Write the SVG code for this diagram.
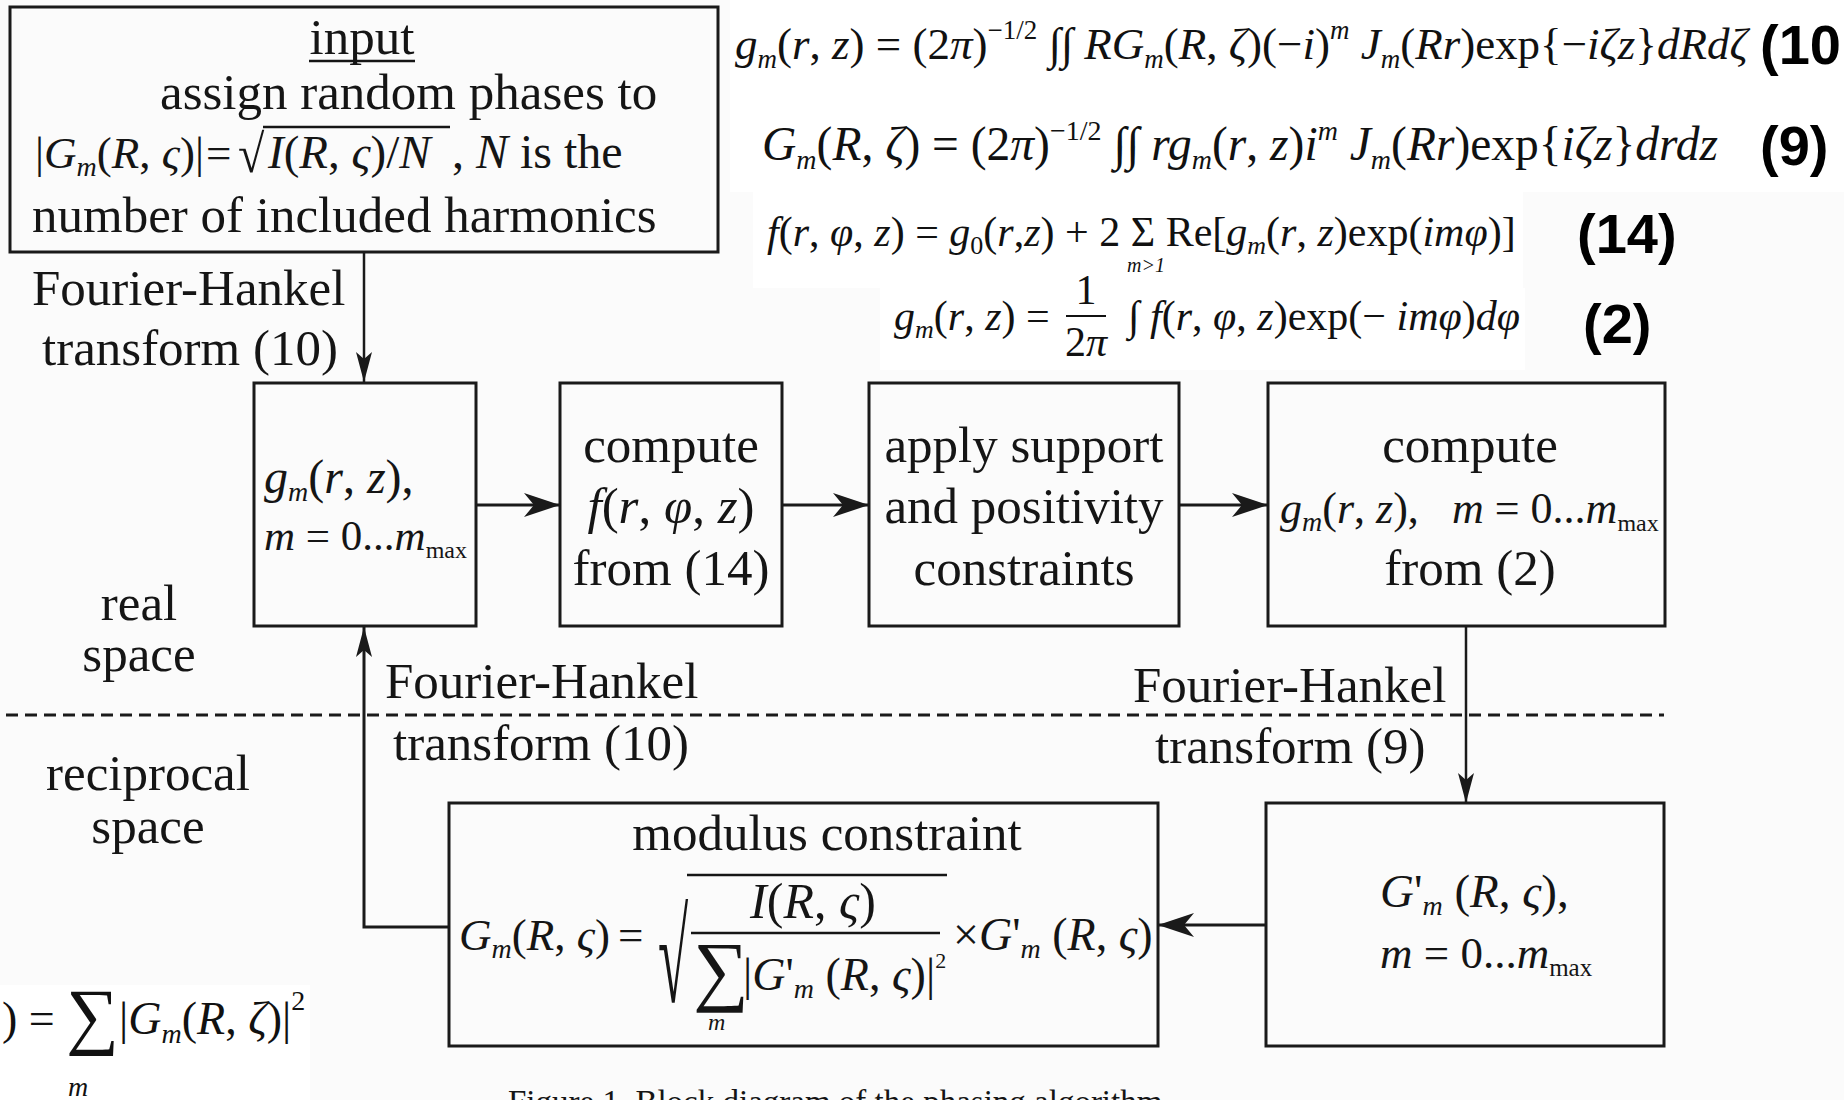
<svg xmlns="http://www.w3.org/2000/svg" width="1844" height="1100" viewBox="0 0 1844 1100">
<style>
.t{font-family:"Liberation Serif","Times New Roman",serif;fill:#151515;font-size:51px}
.i{font-style:italic}
.sub{font-style:italic;font-size:28px}
.bx{fill:#fbfbfb;stroke:#1a1a1a;stroke-width:3}
.ln{fill:none;stroke:#1a1a1a;stroke-width:3}
.lv{fill:none;stroke:#1a1a1a;stroke-width:2.5}
.lbl{font-family:"Liberation Sans",Arial,sans-serif;font-weight:bold;font-size:56px;fill:#000}
.eq{font-family:"Liberation Serif","Times New Roman",serif;fill:#111}
</style>
<defs>
<marker id="ah" markerUnits="userSpaceOnUse" markerWidth="40" markerHeight="26" refX="36" refY="12" orient="auto"><path d="M0,0 L36,12 L0,24 L10,12 Z" fill="#1a1a1a"/></marker>
<marker id="av" markerUnits="userSpaceOnUse" markerWidth="32" markerHeight="20" refX="30" refY="8" orient="auto"><path d="M0,0 L30,8 L0,16 L7,8 Z" fill="#1a1a1a"/></marker>
</defs>
<rect x="0" y="0" width="1844" height="1100" fill="#fbfbfb"/>
<rect x="730" y="0" width="1114" height="192" fill="#ffffff"/>
<rect x="753" y="192" width="770" height="96" fill="#ffffff"/>
<rect x="880" y="288" width="645" height="82" fill="#ffffff"/>
<rect x="0" y="985" width="310" height="115" fill="#ffffff"/>

<!-- equations top right -->
<g id="eq10">
<text class="eq" x="735" y="59" font-size="45"><tspan class="i">g</tspan><tspan class="i" font-size="27" dy="9">m</tspan><tspan dy="-9">(</tspan><tspan class="i">r</tspan>, <tspan class="i">z</tspan>) = (2<tspan class="i">π</tspan>)<tspan font-size="27" dy="-20">−1/2</tspan><tspan dy="20"> ∫∫ </tspan><tspan class="i">RG</tspan><tspan class="i" font-size="27" dy="9">m</tspan><tspan dy="-9">(</tspan><tspan class="i">R</tspan>, <tspan class="i">ζ</tspan>)(−<tspan class="i">i</tspan>)<tspan class="i" font-size="27" dy="-20">m</tspan><tspan dy="20"> </tspan><tspan class="i">J</tspan><tspan class="i" font-size="27" dy="9">m</tspan><tspan dy="-9">(</tspan><tspan class="i">Rr</tspan>)exp{−<tspan class="i">iζz</tspan>}<tspan class="i">dRdζ</tspan></text>
<text class="lbl" x="1760" y="64">(10</text>
</g>
<g id="eq9">
<text class="eq" x="762" y="160" font-size="47.5"><tspan class="i">G</tspan><tspan class="i" font-size="28" dy="9">m</tspan><tspan dy="-9">(</tspan><tspan class="i">R</tspan>, <tspan class="i">ζ</tspan>) = (2<tspan class="i">π</tspan>)<tspan font-size="28" dy="-20">−1/2</tspan><tspan dy="20"> ∫∫ </tspan><tspan class="i">rg</tspan><tspan class="i" font-size="28" dy="9">m</tspan><tspan dy="-9">(</tspan><tspan class="i">r</tspan>, <tspan class="i">z</tspan>)<tspan class="i">i</tspan><tspan class="i" font-size="28" dy="-20">m</tspan><tspan dy="20"> </tspan><tspan class="i">J</tspan><tspan class="i" font-size="28" dy="9">m</tspan><tspan dy="-9">(</tspan><tspan class="i">Rr</tspan>)exp{<tspan class="i">iζz</tspan>}<tspan class="i">drdz</tspan></text>
<text class="lbl" x="1760" y="165">(9)</text>
</g>
<g id="eq14">
<text class="eq" x="767" y="246" font-size="42"><tspan class="i">f</tspan>(<tspan class="i">r</tspan>, <tspan class="i">φ</tspan>, <tspan class="i">z</tspan>) = <tspan class="i">g</tspan><tspan font-size="26" dy="8">0</tspan><tspan dy="-8">(</tspan><tspan class="i">r</tspan>,<tspan class="i">z</tspan>) + 2 Σ Re[<tspan class="i">g</tspan><tspan class="i" font-size="26" dy="8">m</tspan><tspan dy="-8">(</tspan><tspan class="i">r</tspan>, <tspan class="i">z</tspan>)exp(<tspan class="i">imφ</tspan>)]</text>
<text class="eq i" x="1127" y="272" font-size="20">m&gt;1</text>
<text class="lbl" x="1577" y="253">(14)</text>
</g>
<g id="eq2">
<text class="eq" x="894" y="330" font-size="42"><tspan class="i">g</tspan><tspan class="i" font-size="26" dy="8">m</tspan><tspan dy="-8">(</tspan><tspan class="i">r</tspan>, <tspan class="i">z</tspan>) =</text>
<text class="eq" x="1086" y="304" font-size="42" text-anchor="middle">1</text>
<line x1="1066" y1="316" x2="1106" y2="316" stroke="#111" stroke-width="2"/>
<text class="eq" x="1086" y="356" font-size="42" text-anchor="middle">2<tspan class="i">π</tspan></text>
<text class="eq" x="1128" y="330" font-size="42">∫ <tspan class="i">f</tspan>(<tspan class="i">r</tspan>, <tspan class="i">φ</tspan>, <tspan class="i">z</tspan>)exp(− <tspan class="i">imφ</tspan>)<tspan class="i">dφ</tspan></text>
<text class="lbl" x="1583" y="343">(2)</text>
</g>

<!-- bottom-left equation -->
<g id="eqI">
<text class="eq" x="2" y="1034" font-size="46">) = <tspan font-size="74" dy="6">∑</tspan><tspan dy="-6">|</tspan><tspan class="i">G</tspan><tspan class="i" font-size="28" dy="9">m</tspan><tspan dy="-9">(</tspan><tspan class="i">R</tspan>, <tspan class="i">ζ</tspan>)|<tspan font-size="28" dy="-24">2</tspan></text>
<text class="eq i" x="68" y="1096" font-size="28">m</text>
</g>

<!-- nodes -->
<g id="input">
<rect class="bx" x="10" y="7" width="708" height="245"/>
<text class="t" x="362" y="54" text-anchor="middle">input</text>
<line x1="309" y1="61" x2="415" y2="61" stroke="#151515" stroke-width="2.5"/>
<text class="t" x="160" y="109">assign random phases to</text>
<text class="t" x="35" y="168" style="font-size:45px">|<tspan class="i">G</tspan><tspan class="sub" dy="8">m</tspan><tspan dy="-8">(</tspan><tspan class="i">R</tspan>, <tspan class="i">ς</tspan>)|<tspan x="206">=</tspan></text>
<text class="t" transform="translate(238,172) scale(1,1.12)" style="font-size:48px">√</text>
<line x1="263" y1="127" x2="450" y2="127" stroke="#151515" stroke-width="2.5"/>
<text class="t" x="268" y="168" style="font-size:47px"><tspan class="i">I</tspan>(<tspan class="i">R</tspan>, <tspan class="i">ς</tspan>)/<tspan class="i">N</tspan></text>
<text class="t" x="452" y="168" style="font-size:48px">, <tspan class="i">N</tspan> is the</text>
<text class="t" x="32" y="232">number of included harmonics</text>
</g>
<g id="gm">
<rect class="bx" x="254" y="383" width="222" height="243"/>
<text class="t" x="264" y="493" style="font-size:48px"><tspan class="i">g</tspan><tspan class="sub" dy="8">m</tspan><tspan dy="-8">(</tspan><tspan class="i">r</tspan>, <tspan class="i">z</tspan>),</text>
<text class="t" x="264" y="550" style="font-size:43px"><tspan class="i">m</tspan> = 0...<tspan class="i">m</tspan><tspan font-size="24" dy="8">max</tspan></text>
</g>
<g id="computef">
<rect class="bx" x="560" y="383" width="222" height="243"/>
<text class="t" x="671" y="462" text-anchor="middle">compute</text>
<text class="t" x="671" y="523" text-anchor="middle"><tspan class="i">f</tspan>(<tspan class="i">r</tspan>, <tspan class="i">φ</tspan>, <tspan class="i">z</tspan>)</text>
<text class="t" x="671" y="585" text-anchor="middle">from (14)</text>
</g>
<g id="support">
<rect class="bx" x="869" y="383" width="310" height="243"/>
<text class="t" x="1024" y="462" text-anchor="middle">apply support</text>
<text class="t" x="1024" y="523" text-anchor="middle">and positivity</text>
<text class="t" x="1024" y="585" text-anchor="middle">constraints</text>
</g>
<g id="computeg">
<rect class="bx" x="1268" y="383" width="397" height="243"/>
<text class="t" x="1470" y="462" text-anchor="middle">compute</text>
<text class="t" x="1280" y="523" style="font-size:44px"><tspan class="i">g</tspan><tspan class="sub" dy="8">m</tspan><tspan dy="-8">(</tspan><tspan class="i">r</tspan>, <tspan class="i">z</tspan>),<tspan class="i" x="1452">m</tspan> = 0...<tspan class="i">m</tspan><tspan font-size="24" dy="8">max</tspan></text>
<text class="t" x="1470" y="585" text-anchor="middle">from (2)</text>
</g>
<g id="gprime">
<rect class="bx" x="1266" y="803" width="398" height="243"/>
<text class="t" x="1380" y="907" style="font-size:47px"><tspan class="i">G</tspan>'<tspan class="sub" dy="8">m</tspan><tspan dy="-8"> (</tspan><tspan class="i">R</tspan>, <tspan class="i">ς</tspan>),</text>
<text class="t" x="1380" y="968" style="font-size:45px"><tspan class="i">m</tspan> = 0...<tspan class="i">m</tspan><tspan font-size="25" dy="8">max</tspan></text>
</g>
<g id="modulus">
<rect class="bx" x="449" y="803" width="709" height="243"/>
<text class="t" x="827" y="850" text-anchor="middle">modulus constraint</text>
<text class="t" x="459" y="950" style="font-size:45px"><tspan class="i">G</tspan><tspan class="sub" dy="8">m</tspan><tspan dy="-8">(</tspan><tspan class="i">R</tspan>, <tspan class="i">ς</tspan>)<tspan x="618">=</tspan></text>
<text class="t" transform="translate(658,1002) scale(1.1,2.6)" style="font-size:50px">√</text>
<line x1="687" y1="875" x2="947" y2="875" stroke="#151515" stroke-width="2.5"/>
<text class="t" x="813" y="918" style="font-size:50px" text-anchor="middle"><tspan class="i">I</tspan>(<tspan class="i">R</tspan>, <tspan class="i">ς</tspan>)</text>
<line x1="691" y1="933" x2="940" y2="933" stroke="#151515" stroke-width="2.5"/>
<text class="t" x="693" y="996" style="font-size:78px">∑</text>
<text class="t" x="743" y="990" style="font-size:46px">|<tspan class="i">G</tspan>'<tspan class="sub" dy="8" font-size="26">m</tspan><tspan dy="-8"> (</tspan><tspan class="i">R</tspan>, <tspan class="i">ς</tspan>)|<tspan font-size="22" dy="-22">2</tspan></text>
<text class="t i" x="708" y="1030" style="font-size:24px">m</text>
<text class="t" x="953" y="950" style="font-size:46px">×<tspan class="i">G</tspan>'<tspan class="sub" dy="8" font-size="26">m</tspan><tspan dy="-8"> (</tspan><tspan class="i">R</tspan>, <tspan class="i">ς</tspan>)</text>
</g>

<!-- side labels -->
<g id="labels">
<text class="t" x="32" y="305">Fourier-Hankel</text>
<text class="t" x="42" y="365">transform (10)</text>
<text class="t" x="139" y="620" text-anchor="middle">real</text>
<text class="t" x="139" y="671" text-anchor="middle">space</text>
<text class="t" x="148" y="790" text-anchor="middle">reciprocal</text>
<text class="t" x="148" y="843" text-anchor="middle">space</text>
<text class="t" x="385" y="698">Fourier-Hankel</text>
<text class="t" x="393" y="760">transform (10)</text>
<text class="t" x="1133" y="702">Fourier-Hankel</text>
<text class="t" x="1155" y="763">transform (9)</text>
<text class="t" x="508" y="1113" style="font-size:33px">Figure 1. Block diagram of the phasing algorithm.</text>
</g>

<line x1="6" y1="715" x2="1664" y2="715" stroke="#1a1a1a" stroke-width="3" stroke-dasharray="12 7"/>

<g id="connectors">
<line class="lv" x1="364" y1="252" x2="364" y2="382" marker-end="url(#av)"/>
<line class="ln" x1="476" y1="505" x2="560" y2="505" marker-end="url(#ah)"/>
<line class="ln" x1="782" y1="505" x2="869" y2="505" marker-end="url(#ah)"/>
<line class="ln" x1="1179" y1="505" x2="1268" y2="505" marker-end="url(#ah)"/>
<line class="lv" x1="1466" y1="627" x2="1466" y2="803" marker-end="url(#av)"/>
<line class="ln" x1="1266" y1="925" x2="1158" y2="925" marker-end="url(#ah)"/>
<polyline class="ln" points="449,927 364,927 364,627" marker-end="url(#av)"/>
</g>
</svg>
